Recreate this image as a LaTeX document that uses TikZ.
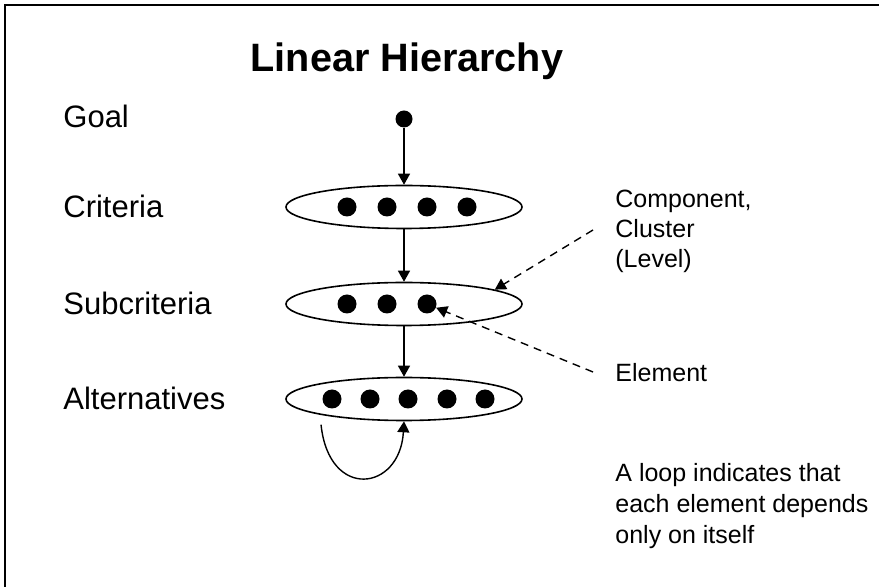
\documentclass[tikz,border=0pt]{standalone}
\usepackage{fontspec}
\setmainfont{Liberation Sans}
\usetikzlibrary{arrows.meta,shapes.geometric}
\tikzset{
  level/.style={draw,ellipse,line width=0.8pt,minimum width=118pt,minimum height=21.5pt,inner sep=0pt},
  elem/.style={circle,fill=black,inner sep=0pt,minimum size=9.5pt},
  rowlabel/.style={anchor=base west,inner sep=0pt,font=\fontsize{15.5}{18}\selectfont},
  note/.style={anchor=west,inner sep=0pt,align=left,font=\fontsize{12.5}{15}\selectfont},
  flow/.style={line width=0.7pt,-{Triangle[width=6pt,length=5.5pt]}},
  hint/.style={flow,dash pattern=on 4pt off 3pt}
}

\begin{document}
\begin{tikzpicture}[x=0.5pt,y=-0.5pt]
\useasboundingbox (0,0) rectangle (879,587);
\draw[line width=1pt] (5,587) -- (5,5) -- (879,5);

\node[anchor=base,inner sep=0pt,font=\bfseries\fontsize{19.8}{23}\selectfont] (title) at (407,72) {Linear Hierarchy};

% row labels
\node[rowlabel] (lGoal) at (63,128) {Goal};
\node[rowlabel] (lCrit) at (63,218) {Criteria};
\node[rowlabel] (lSubc) at (63,315) {Subcriteria};
\node[rowlabel] (lAlt) at (63,410) {Alternatives};

% levels
\node[elem,minimum size=8.5pt] (goal) at (404,119) {};
\node[level] (crit) at (404,207) {};
\node[level] (subc) at (404,304) {};
\node[level] (alt) at (404,399) {};

\foreach \x [count=\i] in {347,387,427,467} \node[elem] (c\i) at (\x,207) {};
\foreach \x [count=\i] in {347,387,427} \node[elem] (s\i) at (\x,304) {};
\foreach \x [count=\i] in {332,370,408,447,485} \node[elem] (a\i) at (\x,399) {};

\draw[flow] (goal) -- (crit.north);
\draw[flow] (crit.south) -- (subc.north);
\draw[flow] (subc.south) -- (alt.north);

% loop
\draw[flow,shorten <=5pt] (alt.south west) .. controls +(9,86) and +(-4,70) .. (alt.south);

% notes
\node[note] (cmpTxt) at (615,231) {Component,\\Cluster\\(Level)};
\node[note,anchor=base west] (elmTxt) at (615,382) {Element};
\node[note,font=\fontsize{12.5}{15.5}\selectfont] (loopTxt) at (615,506) {A loop indicates that\\each element depends\\only on itself};

\coordinate (cmpEnd) at (593,230);
\coordinate (elmEnd) at (593,372);
\draw[hint] (cmpEnd) -- (subc.9);
\draw[hint] (elmEnd) -- (s3);

\end{tikzpicture}
\end{document}
